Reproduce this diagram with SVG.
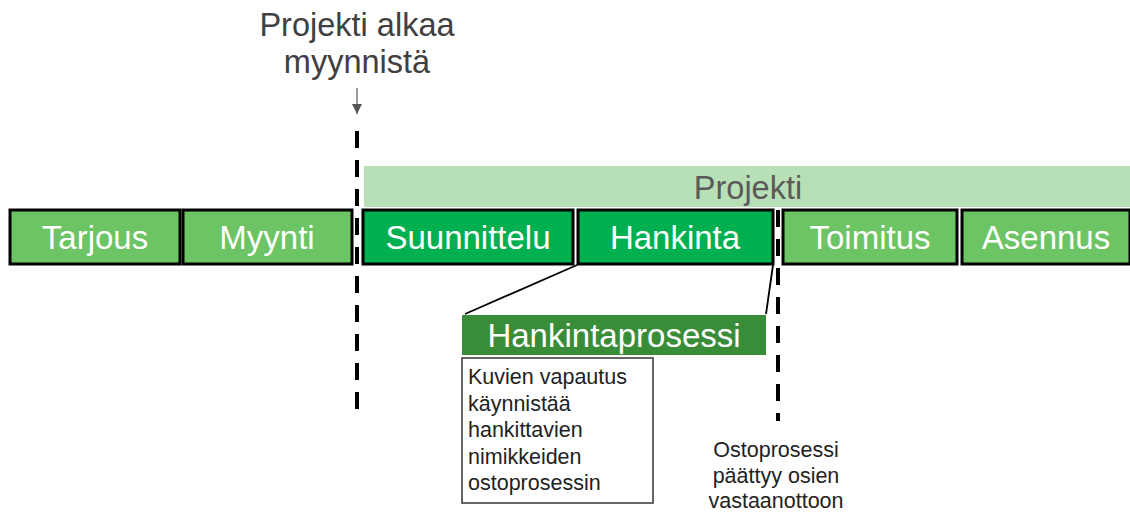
<svg xmlns="http://www.w3.org/2000/svg" width="1130" height="515" viewBox="0 0 1130 515">
  <style>
    .phase { stroke: #000; stroke-width: 3; }
    .light { fill: #6cc464; }
    .dark { fill: #00b050; }
    .ptext { font-family: "Liberation Sans", Arial, sans-serif; font-size: 33px; fill: #fff; text-anchor: middle; }
    .note { font-family: "Liberation Sans", Arial, sans-serif; font-size: 21.5px; fill: #222; }
    .head { font-family: "Liberation Sans", Arial, sans-serif; font-size: 32.5px; fill: #404040; text-anchor: middle; }
    .dash { stroke: #000; stroke-width: 4; stroke-dasharray: 17 12; fill: none; }
    .link { stroke: #000; stroke-width: 1.8; fill: none; }
  </style>
  <defs>
    <marker id="arrow" markerWidth="10" markerHeight="10" refX="10" refY="5" orient="auto" markerUnits="userSpaceOnUse" viewBox="0 0 10 10">
      <path d="M0,0 L10,5 L0,10 Z" fill="#555"/>
    </marker>
  </defs>

  <!-- project band -->
  <g id="projekti">
    <rect x="364" y="166" width="766" height="41" fill="#b8e0b6"/>
    <text x="748" y="199" font-family="Liberation Sans, Arial, sans-serif" font-size="32.5" fill="#5a5a5a" text-anchor="middle">Projekti</text>
  </g>

  <!-- phases -->
  <g id="tarjous">
    <rect class="phase light" x="10" y="210" width="170" height="54"/>
    <text class="ptext" x="95" y="249">Tarjous</text>
  </g>
  <g id="myynti">
    <rect class="phase light" x="183" y="210" width="169" height="54"/>
    <text class="ptext" x="267" y="249">Myynti</text>
  </g>
  <g id="suunnittelu">
    <rect class="phase dark" x="363" y="210" width="210" height="54"/>
    <text class="ptext" x="468" y="249">Suunnittelu</text>
  </g>
  <g id="hankinta">
    <rect class="phase dark" x="578" y="210" width="195" height="54"/>
    <text class="ptext" x="675" y="249">Hankinta</text>
  </g>
  <g id="toimitus">
    <rect class="phase light" x="783" y="210" width="174" height="54"/>
    <text class="ptext" x="870" y="249">Toimitus</text>
  </g>
  <g id="asennus">
    <rect class="phase light" x="962" y="210" width="168" height="54"/>
    <text class="ptext" x="1046" y="249">Asennus</text>
  </g>

  <!-- start label -->
  <g id="alkaa">
    <text class="head" x="357" y="36">Projekti alkaa</text>
    <text class="head" x="357" y="73">myynnistä</text>
  </g>

  <!-- process detail -->
  <g id="hankintaprosessi">
    <rect x="462" y="315" width="304" height="40" fill="#3a8d38"/>
    <text x="614" y="347" font-family="Liberation Sans, Arial, sans-serif" font-size="33" fill="#fff" text-anchor="middle">Hankintaprosessi</text>
  </g>
  <g id="kuvien">
    <rect x="462" y="358" width="191" height="145" fill="#fff" stroke="#333" stroke-width="1.5"/>
    <text class="note" x="468" y="384">Kuvien vapautus</text>
    <text class="note" x="468" y="410.5">käynnistää</text>
    <text class="note" x="468" y="437">hankittavien</text>
    <text class="note" x="468" y="463.5">nimikkeiden</text>
    <text class="note" x="468" y="490">ostoprosessin</text>
  </g>
  <g id="ostoprosessi">
    <text class="note" x="776" y="457" text-anchor="middle">Ostoprosessi</text>
    <text class="note" x="776" y="483" text-anchor="middle">päättyy osien</text>
    <text class="note" x="776" y="508" text-anchor="middle">vastaanottoon</text>
  </g>

  <!-- connectors -->
  <g id="connectors">
    <line x1="357" y1="88" x2="357" y2="114" stroke="#555" stroke-width="1.2" marker-end="url(#arrow)"/>
    <line class="dash" x1="357" y1="131" x2="357" y2="412"/>
    <line class="dash" x1="778" y1="210" x2="778" y2="421"/>
    <line class="link" x1="577" y1="265" x2="465" y2="314"/>
    <line class="link" x1="773" y1="265" x2="766" y2="314"/>
  </g>
</svg>
